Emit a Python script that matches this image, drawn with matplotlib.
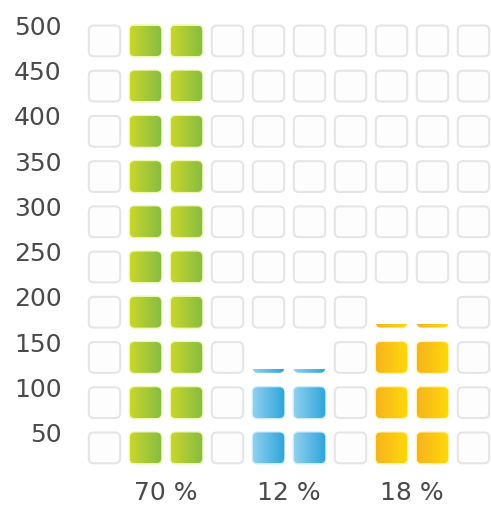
import numpy as np
import matplotlib
matplotlib.use('Agg')
import matplotlib.pyplot as plt
from matplotlib.patches import FancyBboxPatch
from matplotlib.colors import LinearSegmentedColormap

# данные
categories = ['70 %', '12 %', '18 %']
values = [500, 120, 170]
y_ticks = [50, 100, 150, 200, 250, 300, 350, 400, 450, 500]
colors_left = ['#c8d62c', '#8fd0f0', '#f7b31e']
colors_right = ['#86bc42', '#2ea4da', '#ffd90a']
glow = ['#eef59a', '#bfe9fa', '#fff29a']

step = 50
n_rows = 10
n_cols = 10
y_max = step * n_rows

fig = plt.figure(figsize=(4.91, 5.05), dpi=100)
ax = fig.add_axes([84 / 491, 0.054, 405.9 / 491, 0.8955])
ax.set_xlim(-0.5, 9.4)
ax.set_ylim(0, y_max)

# размеры клетки в единицах данных
px_x = 1 / 41.0
px_y = y_max / (0.8955 * 505)
half_w = 15.7 * px_x
sq_h = 34
radius = 5 * px_x
aspect = px_y / px_x


def square(x, y0, face, edge, lw):
    p = FancyBboxPatch((x - half_w, y0), 2 * half_w, sq_h,
                       boxstyle='round,pad=0,rounding_size=%f' % radius,
                       mutation_aspect=aspect, facecolor=face,
                       edgecolor=edge, linewidth=lw, clip_on=False)
    ax.add_patch(p)
    return p


grad = np.linspace(0, 1, 64).reshape(1, -1)

for col in range(n_cols):
    k = None
    if col % 3 != 0:
        k = col // 3
    for row in range(n_rows):
        y0 = row * step + 16
        cell_low = row * step
        if k is None or cell_low >= values[k]:
            square(col, y0, '#fdfdfd', '#e5e5e5', 1.5)
            continue
        top = min(values[k], y0 + sq_h)
        if top <= y0:
            continue
        cmap = LinearSegmentedColormap.from_list('c%d' % k, [colors_left[k], colors_right[k]])
        if top >= y0 + sq_h:
            p = square(col, y0, 'none', glow[k], 1.8)
            p.set_alpha(0.8)
        clip = square(col, y0, 'none', 'none', 0)
        im = ax.imshow(grad, cmap=cmap, aspect='auto', interpolation='bilinear',
                       extent=(col - half_w, col + half_w, y0, top), zorder=2)
        im.set_clip_path(clip)

ax.set_yticks(y_ticks)
ax.set_yticklabels([str(v) for v in y_ticks])
ax.set_xticks([3 * i + 1.5 for i in range(len(categories))])
ax.set_xticklabels(categories)
ax.set_xlim(-0.5, 9.4)
ax.set_ylim(0, y_max)
ax.tick_params(length=0, labelsize=18, colors='#4a4a4a')
ax.tick_params(axis='y', pad=16)
ax.tick_params(axis='x', pad=2)
for s in ax.spines.values():
    s.set_visible(False)

fig.savefig('out.png', dpi=100)
